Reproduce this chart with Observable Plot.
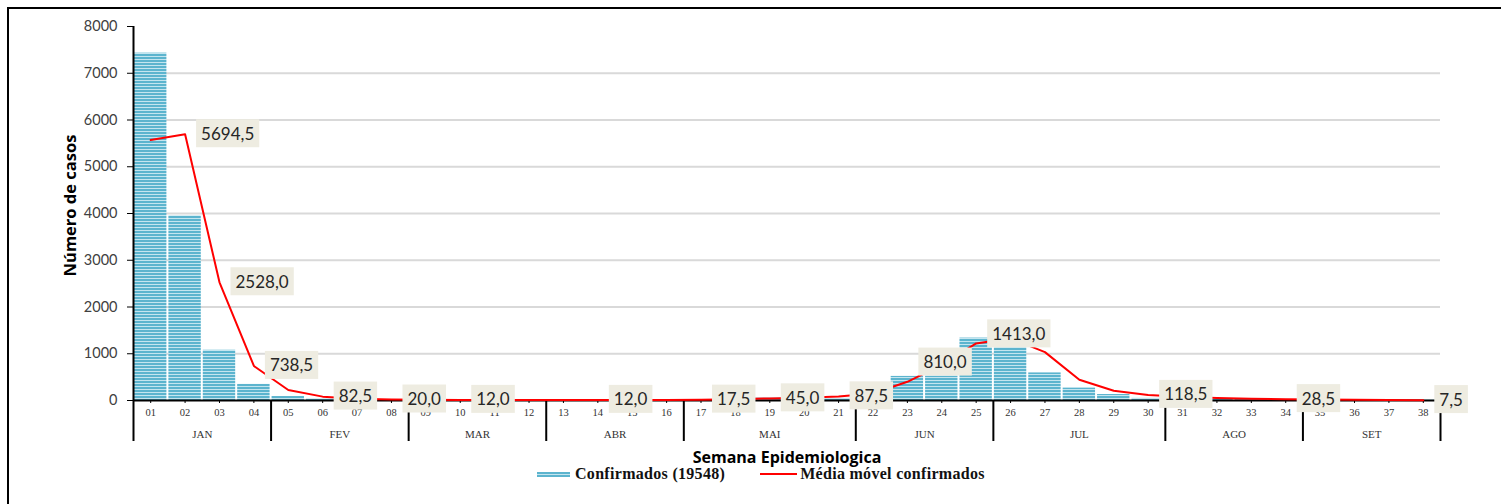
<!DOCTYPE html>
<html>
<head>
<meta charset="utf-8">
<script src="https://cdn.jsdelivr.net/npm/d3@7"></script>
<script src="https://cdn.jsdelivr.net/npm/@observablehq/plot@0.6"></script>
<style>
html,body{margin:0;padding:0;background:#fff;}
#wrap{position:relative;width:1501px;height:504px;overflow:hidden;background:#fff;}
#border{position:absolute;left:7px;top:7px;width:1700px;height:700px;border-top:2.5px solid #000;border-left:2.5px solid #000;}
#chart{position:absolute;left:0;top:0;}
#legend{position:absolute;left:537px;top:464px;height:20px;display:flex;align-items:center;font-family:"Liberation Serif",serif;font-weight:bold;font-size:16px;letter-spacing:0.3px;color:#111;white-space:nowrap;}
#legend .sw{display:inline-block;width:33px;height:5px;margin-right:5px;background:repeating-linear-gradient(to bottom,#5cb4ce 0px,#5cb4ce 2px,#c4e5ef 2px,#c4e5ef 3px);}
#legend .ln{display:inline-block;width:37px;height:2px;margin-left:35px;margin-right:3px;background:#ff0000;}
</style>
</head>
<body>
<div id="wrap">
  <div id="chart"></div>
  <div id="border"></div>
  <div id="legend"><span class="sw"></span><span id="lg1"></span><span class="ln"></span><span id="lg2"></span></div>
</div>
<script>
// ---- data ----
const weeks = [1,2,3,4,5,6,7,8,9,10,11,12,13,14,15,16,17,18,19,20,21,22,23,24,25,26,27,28,29,30,31,32,33,34,35,36,37,38];
const confirmed = [7430,3950,1075,345,85,35,25,15,12,8,10,14,12,10,8,12,20,25,50,60,45,120,515,520,1335,1290,590,265,128,45,35,30,25,20,15,12,8,6];
const movingAvg = [5570,5694.5,2528,738.5,225,82.5,40,20,15,12,10,12,13,12,10,12,17.5,28,45,60,87.5,150,400,760,1220,1330,1035,443,210,118.5,80,55,40,28.5,22,15,10,7.5];
const labelWeeks = [2,3,4,6,8,10,14,17,19,21,23,25,30,34,38];
const labelValues = [5694.5,2528,738.5,82.5,20,12,12,17.5,45,87.5,810,1413,118.5,28.5,7.5];
const monthNames = ["JAN","FEV","MAR","ABR","MAI","JUN","JUL","AGO","SET"];
const monthFirstWeek = [1,5,9,13,17,22,26,31,35];
const monthLastWeek = [4,8,12,16,21,25,30,34,38];
const yTicks = [0,1000,2000,3000,4000,5000,6000,7000,8000];
const seriesNames = ["Confirmados (19548)","Média móvel confirmados"];
const xTitle = "Semana Epidemiologica";
const yTitle = "Número de casos";

// ---- tables ----
const rows = weeks.map((w,i)=>({week:w, confirmed:confirmed[i], avg:movingAvg[i]}));
const labels = labelWeeks.map((w,i)=>({week:w, value:labelValues[i]}));
const months = monthNames.map((m,i)=>({name:m, first:monthFirstWeek[i], last:monthLastWeek[i]}));
const boundaries = [monthFirstWeek[0]-0.5, ...monthLastWeek.map(w=>w+0.5)];
const fmt = v => v.toFixed(1).replace(".", ",");

const chart = Plot.plot({
  width:1501, height:466,
  marginLeft:133, marginRight:61, marginTop:26, marginBottom:66,
  x:{domain:[0.5,38.5]},
  y:{domain:[0,8000]},
  style:{background:"transparent", fontFamily:"Lato", overflow:"visible"},
  marks:[
    Plot.ruleY(yTicks.filter(v=>v>0 && v<8000), {stroke:"#d9d9d9", strokeWidth:2}),
    Plot.rectY(rows, {x1:d=>d.week-0.5, x2:d=>d.week+0.5, y:"confirmed", fill:"url(#stripes)", insetLeft:1, insetRight:1}),
    Plot.ruleY([0], {stroke:"#000", strokeWidth:2}),
    Plot.ruleX([boundaries[0]], {y1:0, y2:8000, stroke:"#000", strokeWidth:2}),
    Plot.ruleX(boundaries, {y1:0, y2:0, insetBottom:-41, stroke:"#000", strokeWidth:2}),
    Plot.axisY({ticks:yTicks, tickFormat:d=>String(d), tickSize:6, tickPadding:10, fontSize:14.5, fontFamily:"Lato", label:null, stroke:"#000", fill:"#404040"}),
    Plot.axisX({ticks:weeks, tickFormat:d=>String(d).padStart(2,"0"), tickSize:3, tickPadding:5, fontSize:10.5, fontFamily:"Liberation Serif", label:null, stroke:"#000", fill:"#333"}),
    Plot.text(months, {x:d=>(d.first+d.last)/2, text:"name", frameAnchor:"bottom", lineAnchor:"middle", dy:34, fontSize:11, fontFamily:"Liberation Serif", fill:"#333"}),
    Plot.text([xTitle], {frameAnchor:"bottom", lineAnchor:"middle", textAnchor:"middle", dy:57, fontSize:16, fontWeight:"bold", fontFamily:"Open Sans", fill:"#000"}),
    Plot.text([yTitle], {frameAnchor:"left", textAnchor:"middle", lineAnchor:"middle", dx:-63, dy:-8, rotate:-90, fontSize:16.5, fontWeight:"bold", fontFamily:"Open Sans", fill:"#000"}),
    Plot.lineY(rows, {x:"week", y:"avg", stroke:"#ff0000", strokeWidth:2}),
    Plot.text(labels, {x:"week", y:"value", text:d=>fmt(d.value), dx:16, textAnchor:"start", fontSize:17, fontFamily:"Lato", fill:"#262626", ariaDescription:"dlabels"})
  ]
});

document.getElementById("chart").append(chart);
document.getElementById("lg1").textContent = seriesNames[0];
document.getElementById("lg2").textContent = seriesNames[1];

const svg = d3.select(chart);
svg.insert("defs", ":first-child").html(
  '<pattern id="stripes" patternUnits="userSpaceOnUse" width="6" height="3">' +
  '<rect width="6" height="3" fill="#5cb4ce"/><rect y="2" width="6" height="1" fill="#c4e5ef"/></pattern>'
);
svg.selectAll('g[aria-description="dlabels"] text').each(function(){
  const bb = this.getBBox();
  const r = document.createElementNS("http://www.w3.org/2000/svg","rect");
  const cy = bb.y + bb.height/2;
  r.setAttribute("x", bb.x - 5);
  r.setAttribute("y", cy - 14);
  r.setAttribute("width", bb.width + 10);
  r.setAttribute("height", 28);
  r.setAttribute("fill", "#eeece1");
  const t = this.getAttribute("transform");
  if (t) r.setAttribute("transform", t);
  this.parentNode.insertBefore(r, this);
});
</script>
</body>
</html>
